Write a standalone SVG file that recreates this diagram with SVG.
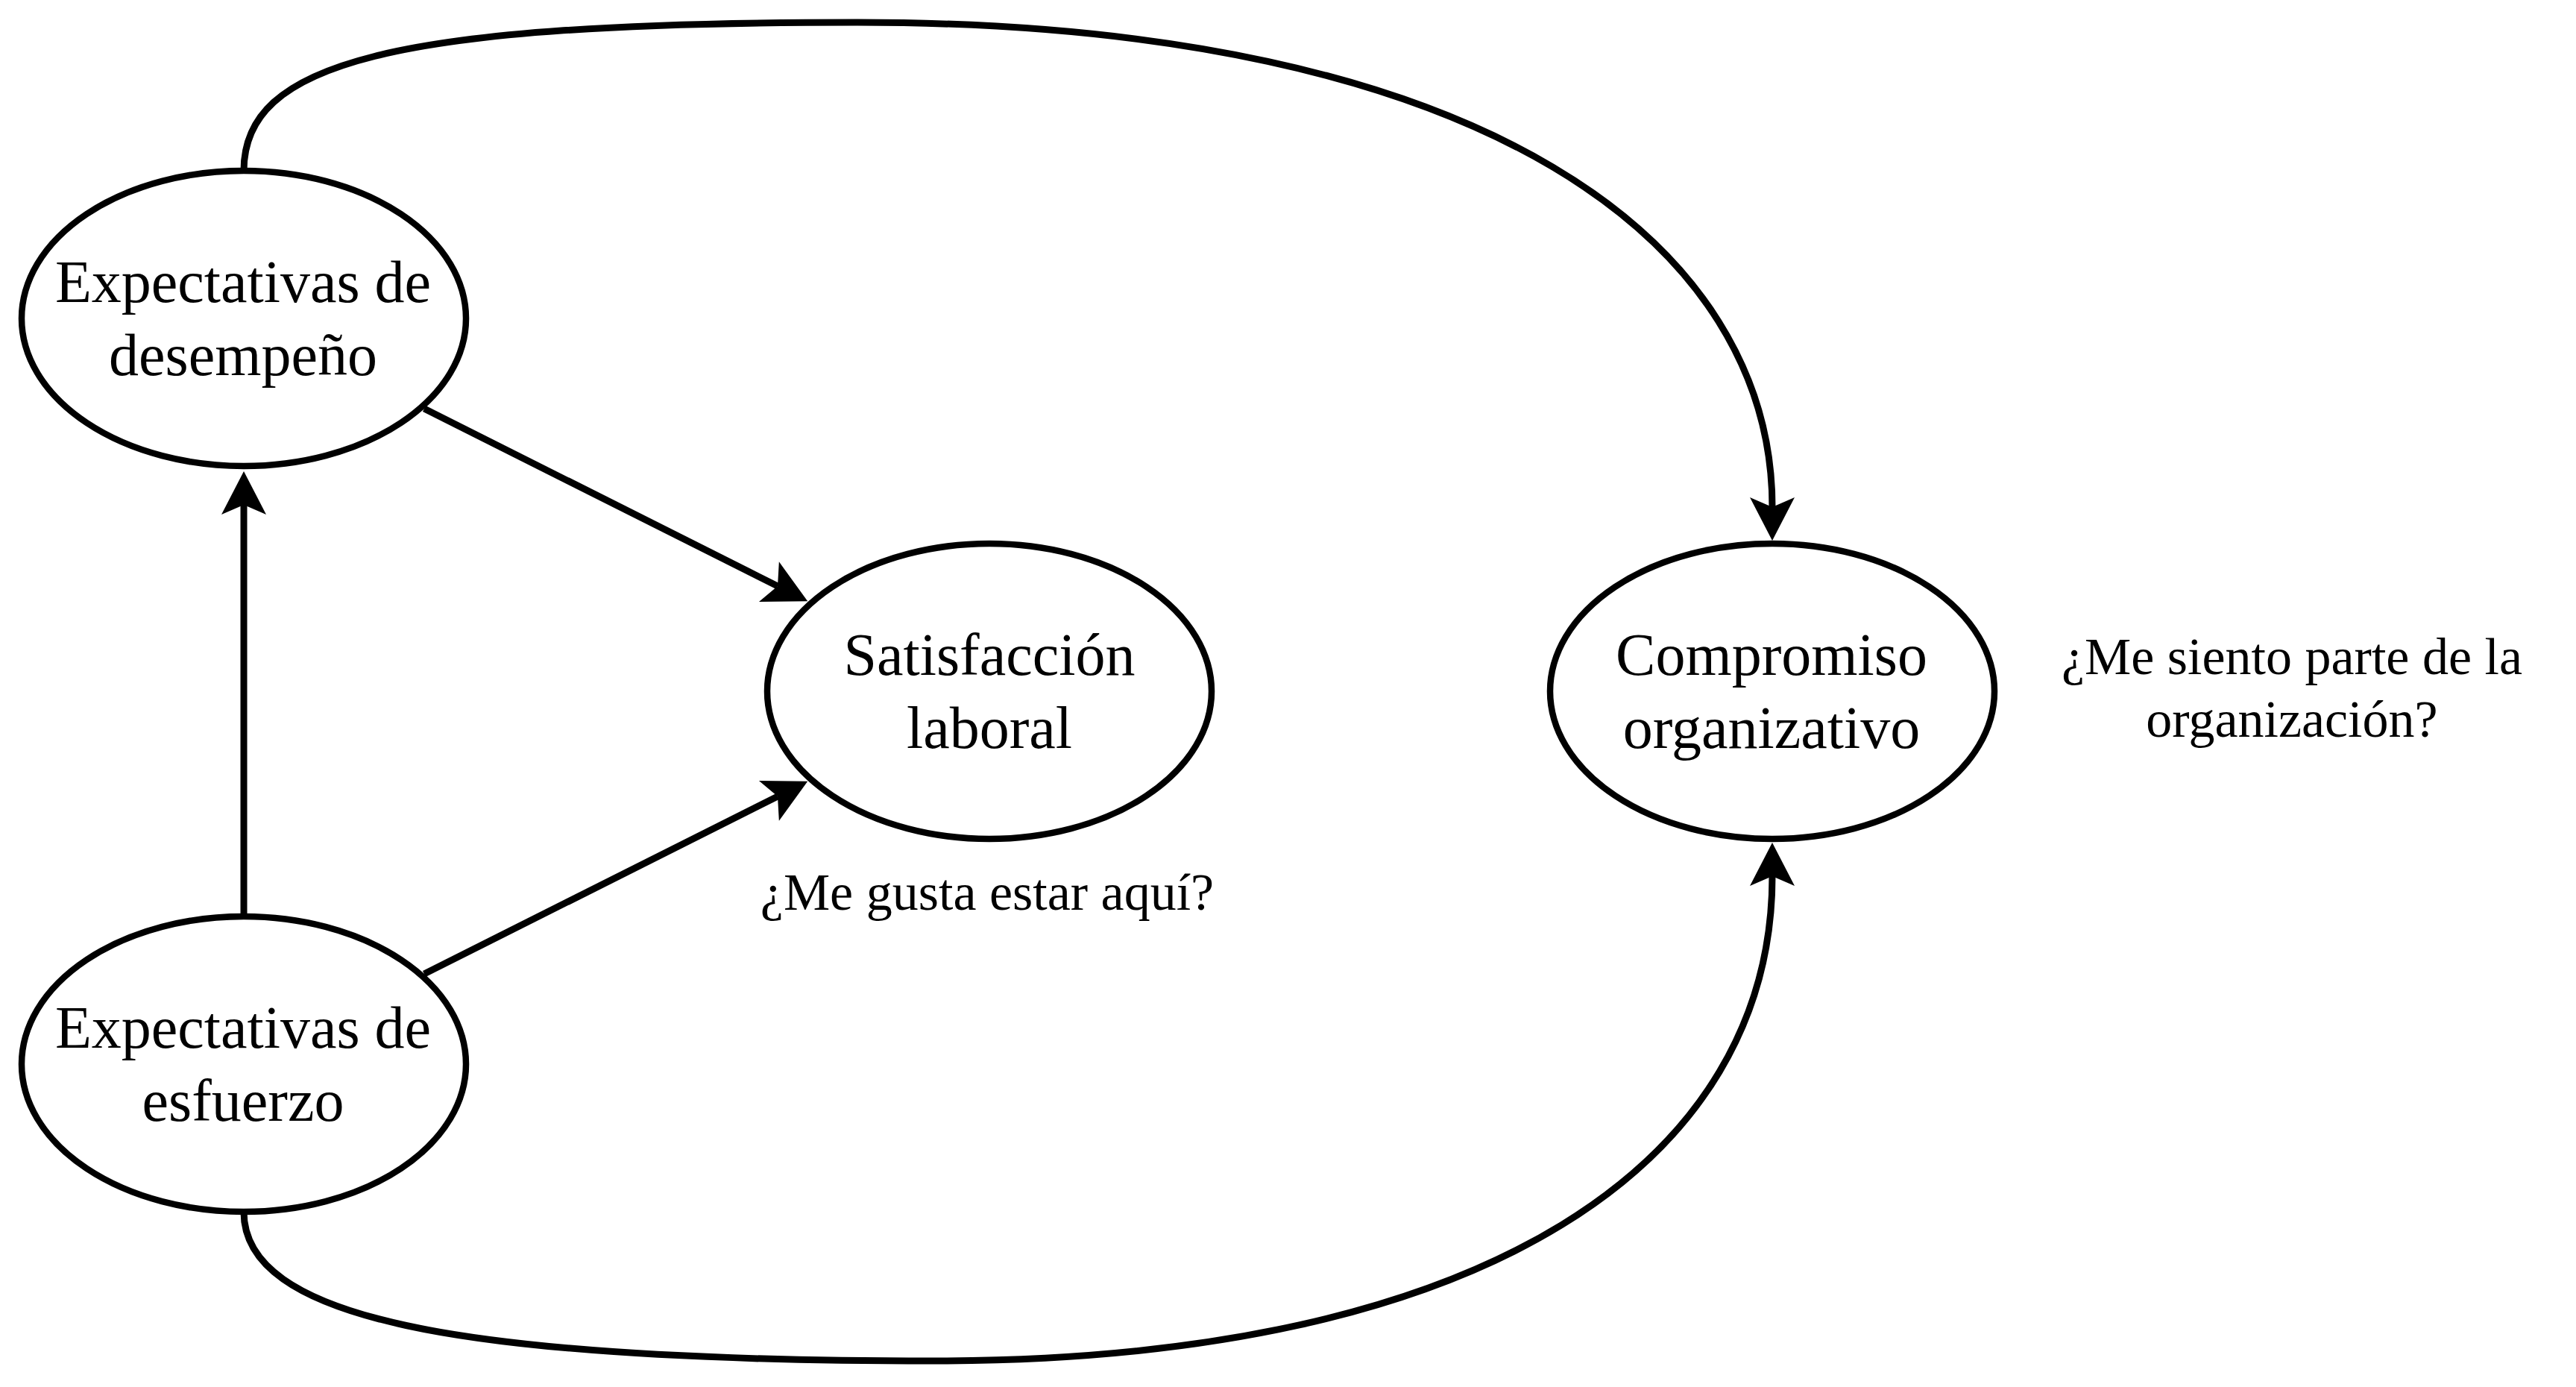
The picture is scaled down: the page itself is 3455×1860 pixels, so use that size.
<svg xmlns="http://www.w3.org/2000/svg" width="3455" height="1860" viewBox="0 0 3455 1860">
<style>
.node ellipse{fill:#fff;stroke:#000;stroke-width:8.5}
.lbl{font-family:"Liberation Serif","Times New Roman",serif;font-size:80px;fill:#000;text-anchor:middle}
.q{font-family:"Liberation Serif","Times New Roman",serif;font-size:70px;fill:#000;text-anchor:middle}
.edge{fill:none;stroke:#000;stroke-width:9;marker-end:url(#arr)}
</style>
<defs>
<marker id="arr" markerUnits="userSpaceOnUse" viewBox="-15 -32 62 64" refX="0" refY="0" markerWidth="62" markerHeight="64" orient="auto">
<path d="M45,0 L-13,-30 L0,0 L-13,30 Z" fill="#000"/>
</marker>
</defs>
<rect width="3455" height="1860" fill="#fff"/>
<g id="n-desempeno" class="node">
<ellipse cx="327" cy="427" rx="298" ry="198"/>
<text class="lbl" x="326" y="405">Expectativas de</text>
<text class="lbl" x="326" y="503">desempeño</text>
</g>
<g id="n-esfuerzo" class="node">
<ellipse cx="327" cy="1427" rx="298" ry="198"/>
<text class="lbl" x="326" y="1405">Expectativas de</text>
<text class="lbl" x="326" y="1503">esfuerzo</text>
</g>
<g id="n-satisfaccion" class="node">
<ellipse cx="1327" cy="927" rx="298" ry="198"/>
<text class="lbl" x="1327" y="905">Satisfacción</text>
<text class="lbl" x="1327" y="1003">laboral</text>
</g>
<g id="n-compromiso" class="node">
<ellipse cx="2377" cy="927" rx="298" ry="198"/>
<text class="lbl" x="2376" y="905">Compromiso</text>
<text class="lbl" x="2376" y="1003">organizativo</text>
</g>
<g id="t-satisfaccion">
<text class="q" x="1324" y="1220">¿Me gusta estar aquí?</text>
</g>
<g id="t-compromiso">
<text class="q" x="3074" y="904">¿Me siento parte de la</text>
<text class="q" x="3074" y="988">organización?</text>
</g>
<g id="connectors">
<path class="edge" d="M327,1229 L327,677"/>
<path class="edge" d="M569,548 L1043,786"/>
<path class="edge" d="M569,1306 L1043,1068"/>
<path class="edge" d="M327,229 C327,85 520,30 1150,30 C2000,30 2377,330 2377,680"/>
<path class="edge" d="M327,1625 C327,1765 600,1825 1250,1825 C2000,1825 2377,1555 2377,1175"/>
</g>
</svg>
